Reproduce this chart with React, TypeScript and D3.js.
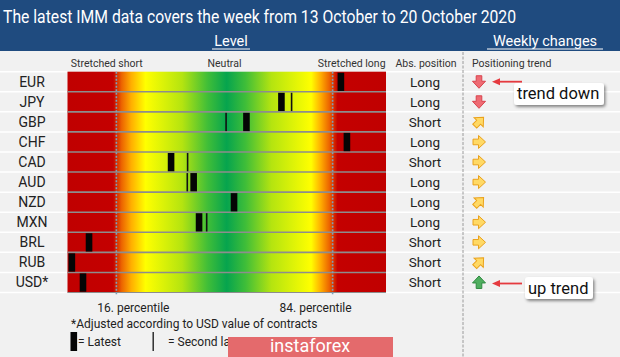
import React from "react";
import * as d3 from "d3";

const currencies = ["EUR", "JPY", "GBP", "CHF", "CAD", "AUD", "NZD", "MXN", "BRL", "RUB", "USD*"];
const latest = [86.6, 67.9, 56.9, 88.5, 33.2, 40.3, 53.0, 42.0, 7.4, 2.0, 5.5];
const secondLatest: (number | null)[] = [null, 71.1, 50.5, null, 38.4, 38.3, null, 44.4, null, null, null];
const absPosition = ["Long", "Long", "Short", "Long", "Short", "Long", "Long", "Long", "Short", "Short", "Short"];
const trend = ["down", "down", "diag", "right", "right", "right", "diag", "right", "right", "diag", "up"];
const percentiles = [16, 84];
const percentileLabelShift = [17, -17];
const zoneLabels = ["Stretched short", "Neutral", "Stretched long"];
const zonePositions = [13, 50, 90];

const W = 620;
const H = 357;
const FONT = "Roboto, 'Open Sans', sans-serif";

const x = d3.scaleLinear().domain([0, 100]).range([65.5, 383.5]);
const y = d3.scaleBand<string>().domain(currencies).range([71.7, 292.5]).padding(0);

const HEAT_X0 = 67.5;
const HEAT_X1 = 386;

const arrowPath = "M-6,-2.8 L-0.5,-2.8 L-0.5,-6.5 L6.5,0 L-0.5,6.5 L-0.5,2.8 L-6,2.8 Z";
const trendStyle: Record<string, { rot: number; fill: string; stroke: string }> = {
  down: { rot: 90, fill: "#ee6b73", stroke: "#d9434d" },
  up: { rot: -90, fill: "#4fae5f", stroke: "#2f8a40" },
  right: { rot: 0, fill: "#ffd965", stroke: "#eaa21c" },
  diag: { rot: -45, fill: "#ffd965", stroke: "#eaa21c" },
};

const gradStops: [number, string][] = [
  [0, "#c00000"],
  [0.143, "#c40000"],
  [0.17, "#ec6400"],
  [0.2, "#ffae00"],
  [0.245, "#ffff00"],
  [0.36, "#b4e410"],
  [0.44, "#40be38"],
  [0.5, "#06a44e"],
  [0.56, "#40be38"],
  [0.64, "#b4e410"],
  [0.765, "#ffff00"],
  [0.795, "#ffae00"],
  [0.822, "#ec6400"],
  [0.848, "#c40000"],
  [1, "#c00000"],
];

export default function App() {
  const bw = y.bandwidth();
  const rowTop = y.range()[0];
  const rowBottom = y.range()[1];
  const boundaries = currencies.slice(1).map((c) => y(c)!);

  return (
    <svg width={W} height={H} style={{ position: "absolute", left: 0, top: 0 }} fontFamily={FONT}>
      <defs>
        <linearGradient id="heat" x1="0" x2="1" y1="0" y2="0">
          {gradStops.map(([o, c], i) => (
            <stop key={i} offset={o} stopColor={c} />
          ))}
        </linearGradient>
        <filter id="shadow" x="-20%" y="-30%" width="150%" height="180%">
          <feDropShadow dx="1.5" dy="2" stdDeviation="1.5" floodColor="#000" floodOpacity="0.45" />
        </filter>
      </defs>

      {/* background */}
      <rect x={0} y={0} width={W} height={H} fill="#f1f1f1" />
      <rect x={0} y={0} width={W} height={51} fill="#1f4b7f" />

      {/* title */}
      <text x={3} y={23} fill="#ffffff" fontSize={17.5} textLength={513} lengthAdjust="spacingAndGlyphs">
        The latest IMM data covers the week from 13 October to 20 October 2020
      </text>
      <text x={231} y={46} fill="#ffffff" fontSize={14.5} textAnchor="middle">Level</text>
      <line x1={212} x2={250} y1={49} y2={49} stroke="#ffffff" strokeWidth={1} />
      <text x={545} y={46} fill="#ffffff" fontSize={14.5} textAnchor="middle">Weekly changes</text>
      <line x1={487} x2={603} y1={49} y2={49} stroke="#ffffff" strokeWidth={1} />

      {/* column headers */}
      {zoneLabels.map((l, i) => (
        <text key={l} x={x(zonePositions[i])} y={67} fontSize={10.5} fill="#333" textAnchor="middle">
          {l}
        </text>
      ))}
      <text x={426} y={67} fontSize={10.5} fill="#333" textAnchor="middle">Abs. position</text>
      <text x={472} y={67} fontSize={10.5} fill="#333">Positioning trend</text>

      {/* white row separators in label areas */}
      {[rowTop, ...boundaries, rowBottom].map((b, i) => (
        <g key={i}>
          <line x1={0} x2={HEAT_X0} y1={b} y2={b} stroke="#ffffff" strokeWidth={1.5} />
          <line x1={HEAT_X1} x2={W} y1={b} y2={b} stroke="#ffffff" strokeWidth={1.5} />
        </g>
      ))}

      {/* heatmap */}
      <rect x={HEAT_X0} y={rowTop} width={HEAT_X1 - HEAT_X0} height={rowBottom - rowTop} fill="url(#heat)" />
      {boundaries.map((b, i) => (
        <line key={i} x1={HEAT_X0} x2={HEAT_X1} y1={b} y2={b} stroke="#8d8d8d" strokeWidth={1.6} />
      ))}
      <line x1={HEAT_X0} x2={HEAT_X1} y1={rowBottom} y2={rowBottom} stroke="#8d8d8d" strokeWidth={1} />

      {/* percentile lines */}
      {percentiles.map((p) => (
        <line key={p} x1={x(p)} x2={x(p)} y1={rowTop} y2={rowBottom + 3} stroke="#7fa0b8" strokeWidth={1.6} strokeDasharray="2 1.5" />
      ))}

      {/* markers */}
      {currencies.map((c, i) => {
        const y0 = y(c)!;
        const s = secondLatest[i];
        return (
          <g key={c}>
            {s !== null && (
              <rect x={x(s) - 0.8} y={y0 + 1} width={1.6} height={bw - 1.8} fill="#111" />
            )}
            <rect x={x(latest[i]) - 3.3} y={y0 + 1} width={6.6} height={bw - 1.8} fill="#050505" />
          </g>
        );
      })}

      {/* row labels */}
      {currencies.map((c) => (
        <text key={c} x={32} y={y(c)! + bw / 2 + 5} fontSize={14} fill="#222" textAnchor="middle">
          {c}
        </text>
      ))}

      {/* abs position */}
      {currencies.map((c, i) => (
        <text key={c} x={425} y={y(c)! + bw / 2 + 5} fontSize={13.5} fill="#222" textAnchor="middle">
          {absPosition[i]}
        </text>
      ))}

      {/* separator */}
      <line x1={463} x2={463} y1={52} y2={H} stroke="#9a9a9a" strokeWidth={1} strokeDasharray="3 1.5" />

      {/* trend arrows */}
      {currencies.map((c, i) => {
        const st = trendStyle[trend[i]];
        return (
          <path
            key={c}
            d={arrowPath}
            transform={`translate(479,${y(c)! + bw / 2}) rotate(${st.rot})`}
            fill={st.fill}
            stroke={st.stroke}
            strokeWidth={1}
          />
        );
      })}

      {/* annotations */}
      <g>
        <rect x={514} y={83} width={90} height={22} rx={3} fill="#ffffff" filter="url(#shadow)" />
        <text x={517} y={99} fontSize={16.5} fill="#111">trend down</text>
        <line x1={499} x2={522} y1={y("EUR")! + 10} y2={y("EUR")! + 10} stroke="#e53a3f" strokeWidth={1.8} />
        <path d={`M492,${y("EUR")! + 10} L500,${y("EUR")! + 6.5} L500,${y("EUR")! + 13.5} Z`} fill="#e53a3f" />
      </g>
      <g>
        <rect x={525} y={277} width={68} height={22} rx={3} fill="#ffffff" filter="url(#shadow)" />
        <text x={528} y={294} fontSize={16.5} fill="#111">up trend</text>
        <line x1={499} x2={522} y1={283.5} y2={283.5} stroke="#e53a3f" strokeWidth={1.8} />
        <path d="M492,283.5 L500,280 L500,287 Z" fill="#e53a3f" />
      </g>

      {/* percentile labels */}
      {percentiles.map((p, i) => (
        <text key={p} x={x(p) + percentileLabelShift[i]} y={312} fontSize={12} fill="#222" textAnchor="middle">
          {`${p}. percentile`}
        </text>
      ))}
      <text x={71} y={328} fontSize={12} fill="#222">*Adjusted according to USD value of contracts</text>

      {/* legend */}
      <rect x={70.5} y={332} width={6.6} height={19} fill="#050505" />
      <text x={78} y={346} fontSize={12} fill="#222">= Latest</text>
      <rect x={152.5} y={332} width={1.4} height={19} fill="#222" />
      <text x={168} y={346} fontSize={12} fill="#222">= Second latest</text>

      {/* watermark */}
      <rect x={228} y={337} width={165} height={20} fill="#e46a6c" />
      <text x={310} y={352} fontSize={18} fill="#ffffff" textAnchor="middle">instaforex</text>
    </svg>
  );
}
